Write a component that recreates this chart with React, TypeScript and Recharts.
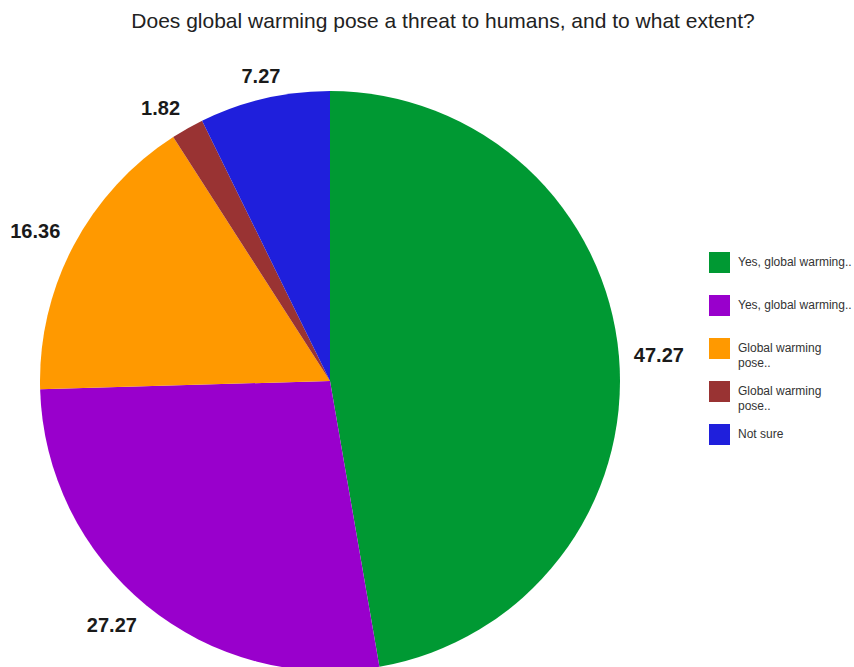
import React from 'react';
import { PieChart, Pie, Cell, Legend } from 'recharts';

const categories = ['Yes, global warming..', 'Yes, global warming..', 'Global warming pose..', 'Global warming pose..', 'Not sure'];
const legendLines = [['Yes, global warming..'], ['Yes, global warming..'], ['Global warming', 'pose..'], ['Global warming', 'pose..'], ['Not sure']];
const shares = [47.27, 27.27, 16.36, 1.82, 7.27];
const colors = ['#009933', '#9900cc', '#ff9900', '#993333', '#1f1fdc'];

const data = categories.map((name, i) => ({ name, value: shares[i], idx: i }));

const RADIAN = Math.PI / 180;
const FONT = '"Liberation Sans", Arial, sans-serif';
const LABEL_SIZE = 20;

const blend = (u: number) => Math.min(1, Math.max(0, (Math.abs(u) - 0.25) / 0.2));

// Value labels sit just outside the rim: the corner (or edge) of the label box
// facing the pie touches a ring slightly larger than the pie, on the mid-angle.
const renderLabel = (props: any) => {
  const { cx, cy, midAngle, outerRadius, value } = props;
  const text = value.toFixed(2);
  let w = 0;
  for (const ch of text) w += (ch === '.' ? 0.278 : 0.556) * LABEL_SIZE;
  const h = 15;
  const ux = Math.cos(-midAngle * RADIAN);
  const uy = Math.sin(-midAngle * RADIAN);
  const r = outerRadius + 15;
  const x = cx + r * ux + Math.sign(ux) * blend(ux) * w / 2;
  const y = cy + r * uy + Math.sign(uy) * blend(uy) * h / 2;
  return (
    <text x={x} y={y} textAnchor="middle" dominantBaseline="central" fontFamily={FONT} fontWeight="bold" fontSize={LABEL_SIZE} fill="#1a1a1a">
      {text}
    </text>
  );
};

const renderLegend = () => (
  <div style={{ fontFamily: FONT, fontSize: 12, color: '#333' }}>
    {legendLines.map((lines, i) => (
      <div key={i} style={{ position: 'absolute', left: 0, top: i * 43, display: 'flex', alignItems: 'flex-start' }}>
        <div style={{ width: 21, height: 21, background: colors[i], flex: 'none' }} />
        <div style={{ marginLeft: 8, marginTop: 3, lineHeight: '15px', whiteSpace: 'nowrap' }}>
          {lines.map((l, j) => (
            <div key={j}>{l}</div>
          ))}
        </div>
      </div>
    ))}
  </div>
);

export default function App() {
  return (
    <div style={{ position: 'absolute', left: 0, top: 0, width: 854, height: 667, background: '#fff', overflow: 'hidden' }}>
      <div style={{ position: 'absolute', left: 0, top: 9, width: 886, textAlign: 'center', fontFamily: FONT, fontSize: 21, color: '#222' }}>
        Does global warming pose a threat to humans, and to what extent?
      </div>
      <PieChart width={854} height={667} margin={{ top: 0, right: 0, bottom: 0, left: 0 }}>
        <Pie
          data={data}
          dataKey="value"
          nameKey="name"
          cx={330}
          cy={381}
          outerRadius={290}
          startAngle={90}
          endAngle={-270}
          stroke="none"
          label={renderLabel}
          labelLine={false}
          isAnimationActive={false}
        >
          {data.map((d) => (
            <Cell key={d.idx} fill={colors[d.idx]} />
          ))}
        </Pie>
        <Legend content={renderLegend} wrapperStyle={{ position: 'absolute', left: 709, top: 252, width: 145, height: 200 }} />
      </PieChart>
    </div>
  );
}
